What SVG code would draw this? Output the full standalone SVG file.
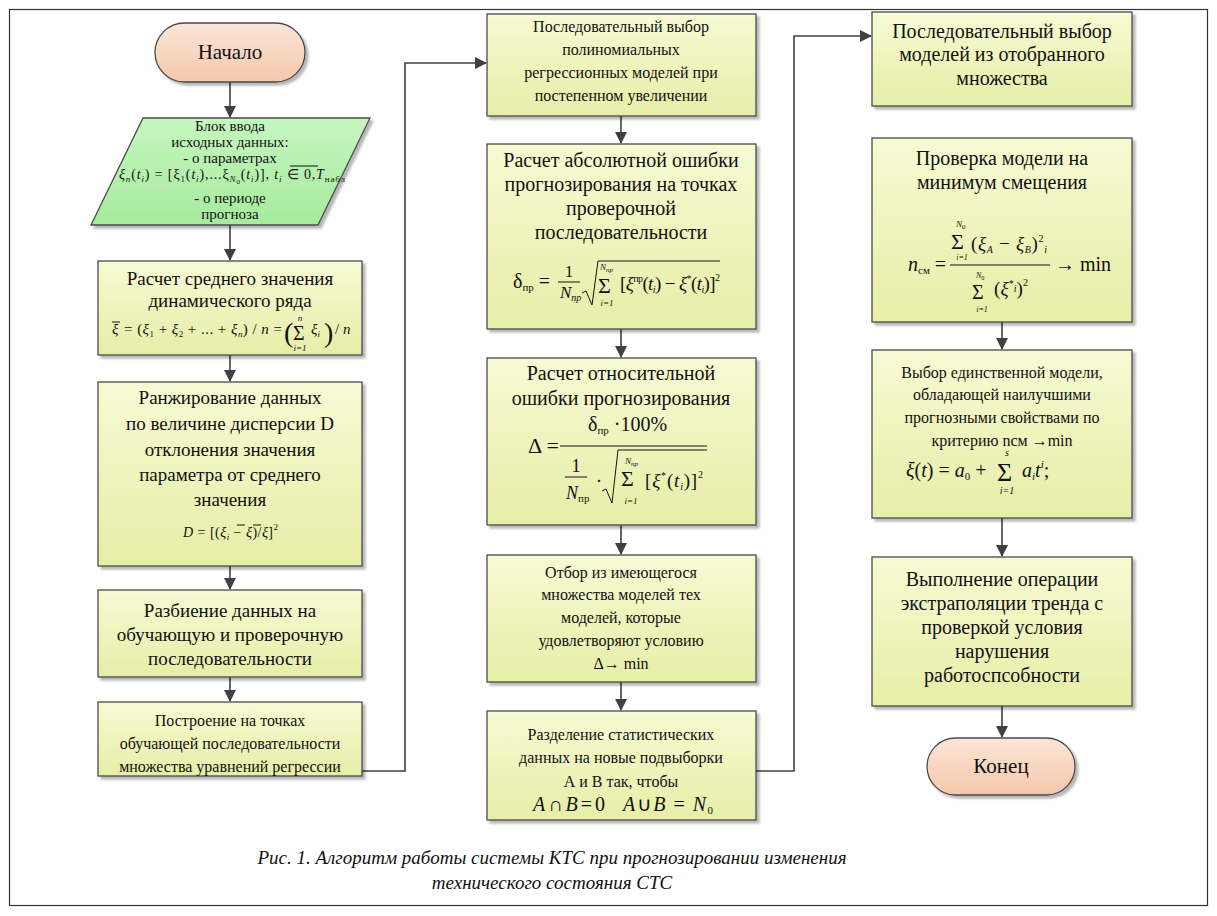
<svg xmlns="http://www.w3.org/2000/svg" width="1217" height="916" viewBox="0 0 1217 916" font-family="Liberation Serif, serif">
<style>
.box{fill:url(#gy);stroke:#4a4a4a;stroke-width:1.3;filter:url(#sh)}
.term{fill:url(#gp);stroke:#4a4a4a;stroke-width:1.3;filter:url(#sh)}
.par{fill:url(#gg);stroke:#4a4a4a;stroke-width:1.3;filter:url(#sh)}
.t{fill:#111;text-anchor:middle}
.m{fill:#111}
.i{font-style:italic}
.f20{font-size:20px}.f19{font-size:19px}.f16{font-size:16px}.f15{font-size:15px}.f14{font-size:14px}
.con{fill:none;stroke:#404040;stroke-width:1.6}
.ln{fill:none;stroke:#111;stroke-width:1}
.cap{font-style:italic;font-size:19px;fill:#111;text-anchor:middle}
</style>
<defs>
<linearGradient id="gy" x1="0" y1="0" x2="0" y2="1"><stop offset="0" stop-color="#f7fad3"/><stop offset="1" stop-color="#e6eea7"/></linearGradient>
<linearGradient id="gp" x1="0" y1="0" x2="0" y2="1"><stop offset="0" stop-color="#fbe6d8"/><stop offset="1" stop-color="#f5c7ab"/></linearGradient>
<linearGradient id="gg" x1="0" y1="0" x2="0" y2="1"><stop offset="0" stop-color="#c6f6bf"/><stop offset="1" stop-color="#a6eb9e"/></linearGradient>
<filter id="sh" x="-10%" y="-10%" width="120%" height="120%"><feDropShadow dx="3" dy="3" stdDeviation="1.2" flood-color="#000" flood-opacity="0.28"/></filter>
<marker id="ar" markerWidth="12" markerHeight="12" refX="11" refY="6" orient="auto" markerUnits="userSpaceOnUse"><path d="M0,0 L12,6 L0,12 z" fill="#404040"/></marker>
</defs>
<rect x="9.5" y="9.5" width="1198" height="896" fill="#fff" stroke="#333" stroke-width="1.2"/>

<g id="connectors">
<line class="con" x1="230" y1="82" x2="230" y2="117" marker-end="url(#ar)"/>
<line class="con" x1="230" y1="225" x2="230" y2="260" marker-end="url(#ar)"/>
<line class="con" x1="230" y1="355" x2="230" y2="381" marker-end="url(#ar)"/>
<line class="con" x1="230" y1="566" x2="230" y2="589" marker-end="url(#ar)"/>
<line class="con" x1="230" y1="677" x2="230" y2="701" marker-end="url(#ar)"/>
<polyline class="con" points="362,771 405,771 405,63 486,63" marker-end="url(#ar)"/>
<line class="con" x1="621" y1="116" x2="621" y2="143" marker-end="url(#ar)"/>
<line class="con" x1="621" y1="329" x2="621" y2="357" marker-end="url(#ar)"/>
<line class="con" x1="621" y1="525" x2="621" y2="554" marker-end="url(#ar)"/>
<line class="con" x1="621" y1="682" x2="621" y2="710" marker-end="url(#ar)"/>
<polyline class="con" points="756,771 794,771 794,36 871,36" marker-end="url(#ar)"/>
<line class="con" x1="1002" y1="322" x2="1002" y2="349" marker-end="url(#ar)"/>
<line class="con" x1="1002" y1="518" x2="1002" y2="556" marker-end="url(#ar)"/>
<line class="con" x1="1002" y1="706" x2="1002" y2="737" marker-end="url(#ar)"/>
</g>

<g id="start">
<rect class="term" x="155" y="23" width="150" height="59" rx="29.5"/>
<text class="t" x="230" y="59" font-size="21">Начало</text>
</g>

<g id="input">
<polygon class="par" points="143,118 370,118 318,225 91,225"/>
<text class="t f15" x="230" y="131">Блок ввода</text>
<text class="t f15" x="230" y="147">исходных данных:</text>
<text class="t f15" x="230" y="163">- о параметрах</text>
<text class="m f14" x="119" y="179" textLength="226" lengthAdjust="spacing"><tspan class="i">ξ</tspan><tspan font-size="9" dy="3" class="i">n</tspan><tspan dy="-3">(</tspan><tspan class="i">t</tspan><tspan font-size="9" dy="3" class="i">i</tspan><tspan dy="-3">) = [ξ</tspan><tspan font-size="9" dy="3">1</tspan><tspan dy="-3">(</tspan><tspan class="i">t</tspan><tspan font-size="9" dy="3" class="i">i</tspan><tspan dy="-3">),...ξ</tspan><tspan font-size="9" dy="3" class="i">N</tspan><tspan font-size="7" dy="2">0</tspan><tspan dy="-5">(</tspan><tspan class="i">t</tspan><tspan font-size="9" dy="3" class="i">i</tspan><tspan dy="-3">)], </tspan><tspan class="i">t</tspan><tspan font-size="9" dy="3" class="i">i</tspan><tspan dy="-3"> ∈ 0,</tspan><tspan class="i">T</tspan><tspan font-size="9" dy="3">набл</tspan></text>
<line class="ln" x1="290" y1="166" x2="318" y2="166"/>
<text class="t f15" x="230" y="203">- о периоде</text>
<text class="t f15" x="230" y="219">прогноза</text>
</g>

<g id="mean">
<rect class="box" x="98" y="261" width="264" height="94"/>
<text class="t f19" x="230" y="285">Расчет среднего значения</text>
<text class="t f19" x="230" y="307">динамического ряда</text>
<text class="m f15 i" x="112" y="334">ξ</text>
<line class="ln" x1="112" y1="322" x2="120" y2="322"/>
<text class="m f15" x="124" y="334" textLength="158" lengthAdjust="spacing"><tspan>= (</tspan><tspan class="i">ξ</tspan><tspan font-size="9" dy="3">1</tspan><tspan dy="-3"> + </tspan><tspan class="i">ξ</tspan><tspan font-size="9" dy="3">2</tspan><tspan dy="-3"> + ... + </tspan><tspan class="i">ξ</tspan><tspan font-size="9" dy="3" class="i">n</tspan><tspan dy="-3">) / </tspan><tspan class="i">n</tspan><tspan> =</tspan></text>
<text class="m" x="284" y="342" font-size="28">(</text>
<text class="m" x="293" y="340" font-size="20">Σ</text>
<text class="t i" x="300" y="321" font-size="9">n</text>
<text class="t i" x="300" y="351" font-size="9">i=1</text>
<text class="m f15 i" x="311" y="334">ξ<tspan font-size="9" dy="3">i</tspan></text>
<text class="m" x="324" y="342" font-size="28">)</text>
<text class="m f15" x="335" y="334">/ <tspan class="i">n</tspan></text>
</g>

<g id="rank">
<rect class="box" x="98" y="382" width="264" height="184"/>
<text class="t f19" x="230" y="404">Ранжирование данных</text>
<text class="t f19" x="230" y="430">по величине дисперсии D</text>
<text class="t f19" x="230" y="456">отклонения значения</text>
<text class="t f19" x="230" y="481">параметра от среднего</text>
<text class="t f19" x="230" y="506">значения</text>
<text class="m f14" x="183" y="537" textLength="95" lengthAdjust="spacing"><tspan class="i">D</tspan> = [(<tspan class="i">ξ</tspan><tspan font-size="9" dy="3" class="i">i</tspan><tspan dy="-3"> − </tspan><tspan class="i">ξ</tspan>)/<tspan class="i">ξ</tspan>]<tspan font-size="9" dy="-7">2</tspan></text>
<line class="ln" x1="237" y1="525" x2="245" y2="525"/>
<line class="ln" x1="253" y1="525" x2="261" y2="525"/>
</g>

<g id="split">
<rect class="box" x="98" y="590" width="264" height="87"/>
<text class="t f19" x="230" y="617">Разбиение данных на</text>
<text class="t f19" x="230" y="641">обучающую и проверочную</text>
<text class="t f19" x="230" y="665">последовательности</text>
</g>

<g id="build">
<rect class="box" x="98" y="702" width="264" height="74"/>
<text class="t f16" x="230" y="726">Построение на точках</text>
<text class="t f16" x="230" y="749">обучающей последовательности</text>
<text class="t f16" x="230" y="772">множества уравнений регрессии</text>
</g>

<g id="select">
<rect class="box" x="487" y="14" width="269" height="102"/>
<text class="t f16" x="621" y="32">Последовательный выбор</text>
<text class="t f16" x="621" y="55">полиномиальных</text>
<text class="t f16" x="621" y="78">регрессионных моделей при</text>
<text class="t f16" x="621" y="101">постепенном увеличении</text>
</g>

<g id="abserr">
<rect class="box" x="487" y="144" width="269" height="185"/>
<text class="t f20" x="621" y="167">Расчет абсолютной ошибки</text>
<text class="t f20" x="621" y="191">прогнозирования на точках</text>
<text class="t f20" x="621" y="215">проверочной</text>
<text class="t f20" x="621" y="239">последовательности</text>
<text class="m" x="513" y="288" font-size="20">δ<tspan font-size="11" dy="3">пр</tspan><tspan dy="-3"> =</tspan></text>
<text class="t" x="569" y="277" font-size="17">1</text>
<line class="ln" x1="558" y1="282" x2="580" y2="282"/>
<text class="m i" x="560" y="298" font-size="17">N<tspan font-size="10" dy="3">np</tspan></text>
<path class="ln" d="M582,293 L586,291 L592,305 L598,261 L720,261"/>
<text class="m" x="598" y="293" font-size="22">Σ</text>
<text class="m i" x="600" y="270" font-size="9">N<tspan font-size="7" dy="2">np</tspan></text>
<text class="t i" x="607" y="306" font-size="9">i=1</text>
<text class="m" x="620" y="290" font-size="19" textLength="100" lengthAdjust="spacing">[<tspan class="i">ξ</tspan><tspan font-size="10" dy="-8">пр</tspan><tspan dy="8">(</tspan><tspan class="i">t</tspan><tspan font-size="10" dy="3" class="i">i</tspan><tspan dy="-3">) − </tspan><tspan class="i">ξ</tspan><tspan font-size="10" dy="-8">*</tspan><tspan dy="8">(</tspan><tspan class="i">t</tspan><tspan font-size="10" dy="3" class="i">i</tspan><tspan dy="-3">)]</tspan><tspan font-size="10" dy="-9">2</tspan></text>
</g>

<g id="relerr">
<rect class="box" x="487" y="358" width="269" height="167"/>
<text class="t f20" x="621" y="380">Расчет относительной</text>
<text class="t f20" x="621" y="405">ошибки прогнозирования</text>
<text class="m" x="528" y="453" font-size="22">Δ =</text>
<text class="m" x="588" y="431" font-size="20">δ<tspan font-size="11" dy="3">пр</tspan><tspan dy="-3"> ·100%</tspan></text>
<line class="ln" x1="560" y1="446" x2="707" y2="446"/>
<text class="t" x="576" y="472" font-size="18">1</text>
<line class="ln" x1="565" y1="477" x2="587" y2="477"/>
<text class="m" x="566" y="499" font-size="18"><tspan class="i">N</tspan><tspan font-size="11" dy="3">пр</tspan></text>
<text class="m" x="596" y="487" font-size="18">·</text>
<path class="ln" d="M602,491 L606,489 L612,503 L618,450 L707,450"/>
<text class="m" x="621" y="486" font-size="22">Σ</text>
<text class="m i" x="625" y="464" font-size="9">N<tspan font-size="7" dy="2">np</tspan></text>
<text class="t i" x="631" y="504" font-size="9">i=1</text>
<text class="m" x="645" y="487" font-size="19" textLength="58" lengthAdjust="spacing">[<tspan class="i">ξ</tspan><tspan font-size="10" dy="-8">*</tspan><tspan dy="8">(</tspan><tspan class="i">t</tspan><tspan font-size="10" dy="3" class="i">i</tspan><tspan dy="-3">)]</tspan><tspan font-size="10" dy="-9">2</tspan></text>
</g>

<g id="choose">
<rect class="box" x="487" y="555" width="269" height="127"/>
<text class="t f16" x="621" y="578">Отбор из имеющегося</text>
<text class="t f16" x="621" y="600">множества моделей тех</text>
<text class="t f16" x="621" y="623">моделей, которые</text>
<text class="t f16" x="621" y="646">удовлетворяют условию</text>
<text class="t f16" x="621" y="669">Δ→ min</text>
</g>

<g id="divide">
<rect class="box" x="487" y="711" width="269" height="109"/>
<text class="t f16" x="621" y="740">Разделение статистических</text>
<text class="t f16" x="621" y="763">данных на новые подвыборки</text>
<text class="t f16" x="621" y="787">А и В так, чтобы</text>
<text class="m i" x="533" y="811" font-size="20" textLength="72" lengthAdjust="spacing">A<tspan font-style="normal">∩</tspan>B<tspan font-style="normal">=0</tspan></text>
<text class="m i" x="623" y="811" font-size="20" textLength="90" lengthAdjust="spacing">A<tspan font-style="normal">∪</tspan>B<tspan font-style="normal"> = </tspan>N<tspan font-size="11" dy="3" font-style="normal">0</tspan></text>
</g>

<g id="select2">
<rect class="box" x="872" y="12" width="260" height="94"/>
<text class="t f20" x="1002" y="38">Последовательный выбор</text>
<text class="t f20" x="1002" y="61">моделей из отобранного</text>
<text class="t f20" x="1002" y="85">множества</text>
</g>

<g id="bias">
<rect class="box" x="872" y="138" width="260" height="184"/>
<text class="t f20" x="1002" y="165">Проверка модели на</text>
<text class="t f20" x="1002" y="189">минимум смещения</text>
<text class="m" x="908" y="271" font-size="20"><tspan class="i">n</tspan><tspan font-size="11" dy="3">см</tspan><tspan dy="-3"> =</tspan></text>
<line class="ln" x1="950" y1="265" x2="1050" y2="265"/>
<text class="m" x="951" y="249" font-size="22">Σ</text>
<text class="m i" x="956" y="227" font-size="9">N<tspan font-size="7" dy="2" font-style="normal">0</tspan></text>
<text class="t i" x="962" y="260" font-size="8">i=1</text>
<text class="m" x="971" y="250" font-size="19" textLength="76" lengthAdjust="spacing">(<tspan class="i">ξ</tspan><tspan font-size="10" dy="3" class="i">A</tspan><tspan dy="-3"> − </tspan><tspan class="i">ξ</tspan><tspan font-size="10" dy="3" class="i">B</tspan><tspan dy="-3">)</tspan><tspan font-size="10" dy="-8">2</tspan><tspan font-size="10" dy="11" class="i">i</tspan></text>
<text class="m" x="972" y="299" font-size="20">Σ</text>
<text class="m i" x="976" y="278" font-size="8">N<tspan font-size="6" dy="2" font-style="normal">0</tspan></text>
<text class="t i" x="982" y="312" font-size="8">i=1</text>
<text class="m" x="994" y="295" font-size="19" textLength="34" lengthAdjust="spacing">(<tspan class="i">ξ</tspan><tspan font-size="10" dy="-8">*</tspan><tspan font-size="10" dy="5" class="i">i</tspan><tspan dy="3">)</tspan><tspan font-size="10" dy="-9">2</tspan></text>
<text class="m" x="1055" y="271" font-size="20">→ min</text>
</g>

<g id="best">
<rect class="box" x="872" y="350" width="260" height="168"/>
<text class="t f16" x="1002" y="378">Выбор единственной модели,</text>
<text class="t f16" x="1002" y="400">обладающей наилучшими</text>
<text class="t f16" x="1002" y="423">прогнозными свойствами по</text>
<text class="t f16" x="1002" y="446">критерию nсм →min</text>
<text class="m" x="906" y="477" font-size="20"><tspan class="i">ξ</tspan>(<tspan class="i">t</tspan>) = <tspan class="i">a</tspan><tspan font-size="11" dy="3">0</tspan><tspan dy="-3"> +</tspan></text>
<text class="m" x="997" y="481" font-size="26">Σ</text>
<text class="t i" x="1007" y="456" font-size="10">s</text>
<text class="t i" x="1007" y="494" font-size="10">i=1</text>
<text class="m i" x="1022" y="477" font-size="20">a<tspan font-size="11" dy="3">i</tspan><tspan dy="-3">t</tspan><tspan font-size="11" dy="-9">i</tspan><tspan dy="9" font-style="normal">;</tspan></text>
</g>

<g id="extrap">
<rect class="box" x="872" y="557" width="260" height="149"/>
<text class="t f20" x="1002" y="586">Выполнение операции</text>
<text class="t f20" x="1002" y="610">экстраполяции тренда с</text>
<text class="t f20" x="1002" y="634">проверкой условия</text>
<text class="t f20" x="1002" y="658">нарушения</text>
<text class="t f20" x="1002" y="682">работоспсобности</text>
</g>

<g id="end">
<rect class="term" x="927" y="738" width="148" height="57" rx="28.5"/>
<text class="t" x="1001" y="773" font-size="21">Конец</text>
</g>

<g id="caption">
<text class="cap" x="552" y="864">Рис. 1. Алгоритм работы системы КТС при прогнозировании изменения</text>
<text class="cap" x="552" y="889">технического состояния СТС</text>
</g>
</svg>
